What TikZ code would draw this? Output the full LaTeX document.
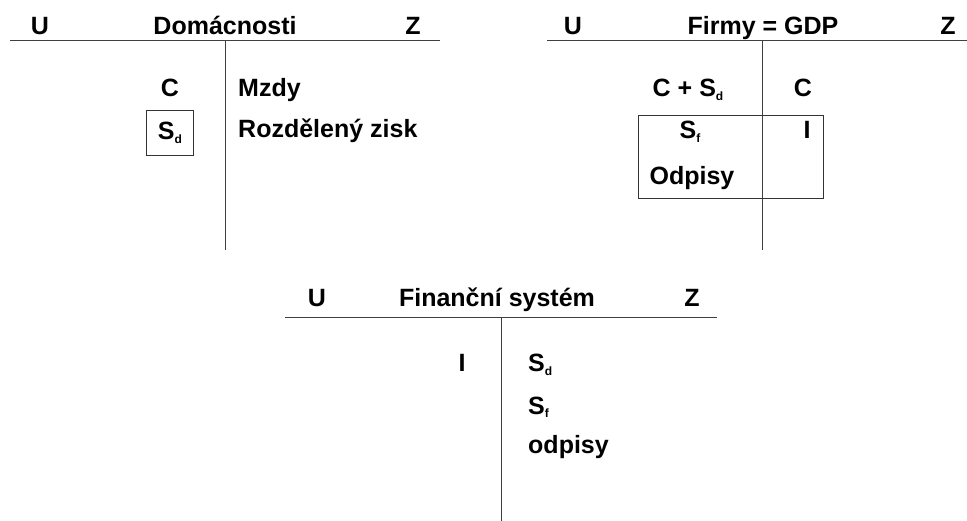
\documentclass[tikz,border=0pt]{standalone}
\usepackage{fontspec}
\setmainfont{Liberation Sans}
\newcommand\subx[1]{\raisebox{-3.5pt}{\fontsize{12pt}{12pt}\selectfont\bfseries #1}}
\begin{document}
\begin{tikzpicture}[x=1pt,y=-1pt,
  txt/.style={inner sep=0pt,font=\fontsize{25pt}{29pt}\selectfont\bfseries},
  ctxt/.style={txt,anchor=base},
  ltxt/.style={txt,anchor=base west},
  rule/.style={draw=black!75,line width=1pt},
  frame/.style={draw=black!80,line width=1pt,inner sep=0pt}]
\useasboundingbox (0,0) rectangle (967,521);

% ---------- Domacnosti ----------
\coordinate (dhl) at (10,41);
\coordinate (dhr) at (440,41);
\coordinate (dvt) at (225,41);
\coordinate (dvb) at (225,250);
\draw[rule] (dhl) -- (dhr);
\draw[rule] (dvt) -- (dvb);
\node[ctxt] (dU) at (40,35) {U};
\node[ctxt] (dT) at (225,35) {Domácnosti};
\node[ctxt] (dZ) at (413,35) {Z};
\node[ctxt] (dC) at (170,97) {C};
\node[frame,minimum width=47pt,minimum height=45pt] (dSbox) at (169.5,133.5) {};
\node[ctxt] (dS) at (170,140) {S\subx{d}};
\node[ltxt] (dM) at (238,97) {Mzdy};
\node[ltxt] (dR) at (238,138) {Rozdělený zisk};

% ---------- Firmy ----------
\coordinate (fhl) at (547,41);
\coordinate (fhr) at (967,41);
\coordinate (fvt) at (762,41);
\coordinate (fvb) at (762,250);
\draw[rule] (fhl) -- (fhr);
\draw[rule] (fvt) -- (fvb);
\node[ctxt] (fU) at (573,35) {U};
\node[ctxt] (fT) at (763,35) {Firmy = GDP};
\node[ctxt] (fZ) at (948,35) {Z};
\node[ctxt] (fCS) at (688,97) {C + S\subx{d}};
\node[ctxt] (fC) at (803,97) {C};
\coordinate (fb1) at (638,116);
\coordinate (fb2) at (823,199);
\draw[draw=black!80,line width=1pt] (fb1) rectangle (fb2);
\node[ctxt] (fS) at (690,139) {S\subx{f}};
\node[ctxt] (fI) at (807,139) {I};
\node[ctxt] (fO) at (692,185) {Odpisy};

% ---------- Financni system ----------
\coordinate (shl) at (285,318);
\coordinate (shr) at (717,318);
\coordinate (svt) at (501,318);
\coordinate (svb) at (501,521);
\draw[rule] (shl) -- (shr);
\draw[rule] (svt) -- (svb);
\node[ctxt] (sU) at (317,307) {U};
\node[ctxt] (sT) at (497,307) {Finanční systém};
\node[ctxt] (sZ) at (692,307) {Z};
\node[ctxt] (sI) at (462,372) {I};
\node[ltxt] (sSd) at (528,372) {S\subx{d}};
\node[ltxt] (sSf) at (528,414) {S\subx{f}};
\node[ltxt] (sO) at (528,453) {odpisy};
\end{tikzpicture}
\end{document}
